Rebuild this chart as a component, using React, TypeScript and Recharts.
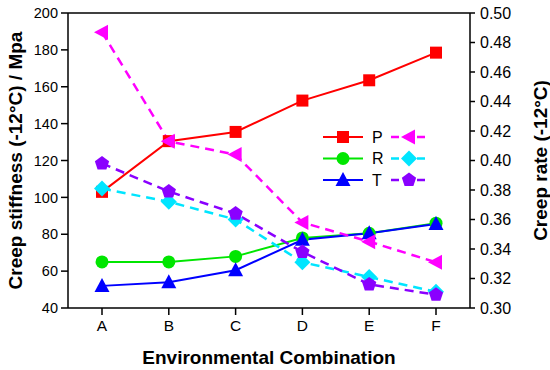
import React from 'react';
import { LineChart, Line, XAxis, YAxis, ReferenceLine, Label } from 'recharts';

const categories = ['A', 'B', 'C', 'D', 'E', 'F'];
const stiffnessP = [103, 130.5, 135.5, 152.5, 163.5, 178.5];
const stiffnessR = [65, 65, 68, 78, 80.5, 86];
const stiffnessT = [52, 54, 60.5, 77, 80.5, 85.5];
const rateP = [0.487, 0.413, 0.404, 0.358, 0.345, 0.331];
const rateR = [0.381, 0.372, 0.36, 0.331, 0.321, 0.311];
const rateT = [0.398, 0.379, 0.364, 0.338, 0.316, 0.309];

const leftTicks = [40, 60, 80, 100, 120, 140, 160, 180, 200];
const leftMinorTicks = [50, 70, 90, 110, 130, 150, 170, 190];
const rightTicks = [0.3, 0.32, 0.34, 0.36, 0.38, 0.4, 0.42, 0.44, 0.46, 0.48, 0.5];
const rightMinorTicks = [0.31, 0.33, 0.35, 0.37, 0.39, 0.41, 0.43, 0.45, 0.47, 0.49];

const data = categories.map((name, i) => ({
  name,
  sP: stiffnessP[i],
  sR: stiffnessR[i],
  sT: stiffnessT[i],
  rP: rateP[i],
  rR: rateR[i],
  rT: rateT[i],
}));

const FONT = '"Liberation Sans", Arial, sans-serif';

type Shape = 'square' | 'circle' | 'triangle' | 'leftTriangle' | 'diamond' | 'pentagon';

function Marker({ cx, cy, shape, color }: { cx: number; cy: number; shape: Shape; color: string }) {
  if (cx == null || cy == null) return null;
  switch (shape) {
    case 'square':
      return <rect x={cx - 6} y={cy - 6} width={12} height={12} fill={color} />;
    case 'circle':
      return <circle cx={cx} cy={cy} r={6.5} fill={color} />;
    case 'triangle':
      return <polygon points={`${cx},${cy - 8} ${cx - 7.5},${cy + 6} ${cx + 7.5},${cy + 6}`} fill={color} />;
    case 'leftTriangle':
      return <polygon points={`${cx - 8},${cy} ${cx + 6},${cy - 7.5} ${cx + 6},${cy + 7.5}`} fill={color} />;
    case 'diamond':
      return <polygon points={`${cx},${cy - 8} ${cx + 8},${cy} ${cx},${cy + 8} ${cx - 8},${cy}`} fill={color} />;
    case 'pentagon': {
      const pts = [0, 1, 2, 3, 4]
        .map((k) => {
          const a = ((-90 + 72 * k) * Math.PI) / 180;
          return `${cx + 7.5 * Math.cos(a)},${cy + 7.5 * Math.sin(a)}`;
        })
        .join(' ');
      return <polygon points={pts} fill={color} />;
    }
  }
  return null;
}

const series = [
  { key: 'sP', axis: 'left', color: '#ff0000', shape: 'square' as Shape, dashed: false },
  { key: 'sR', axis: 'left', color: '#00e600', shape: 'circle' as Shape, dashed: false },
  { key: 'sT', axis: 'left', color: '#0000ff', shape: 'triangle' as Shape, dashed: false },
  { key: 'rP', axis: 'right', color: '#ff00ff', shape: 'leftTriangle' as Shape, dashed: true },
  { key: 'rR', axis: 'right', color: '#00e5ff', shape: 'diamond' as Shape, dashed: true },
  { key: 'rT', axis: 'right', color: '#8a00ff', shape: 'pentagon' as Shape, dashed: true },
];

const makeDot = (shape: Shape, color: string) => (props: any) => (
  <Marker key={`dot-${props.index}`} cx={props.cx} cy={props.cy} shape={shape} color={color} />
);

const legendRows = [
  { label: 'P', left: series[0], right: series[3] },
  { label: 'R', left: series[1], right: series[4] },
  { label: 'T', left: series[2], right: series[5] },
];

// legend drawn as an overlay so it doesn't eat into the plot area
function ChartLegend() {
  return (
    <svg width={120} height={66} style={{ position: 'absolute', left: 318, top: 126 }}>
      {legendRows.map((row, i) => {
        const y = 11 + i * 21.5;
        return (
          <g key={row.label}>
            <line x1={5} x2={45} y1={y} y2={y} stroke={row.left.color} strokeWidth={2} />
            <Marker cx={25} cy={y} shape={row.left.shape} color={row.left.color} />
            <text x={54} y={y} dominantBaseline="central" fontFamily={FONT} fontSize={16} fill="#000">
              {row.label}
            </text>
            <line x1={73} x2={110} y1={y} y2={y} stroke={row.right.color} strokeWidth={2.5} strokeDasharray="8 5" />
            <Marker cx={91} cy={y} shape={row.right.shape} color={row.right.color} />
          </g>
        );
      })}
    </svg>
  );
}

const titleStyle = { fontFamily: FONT, fontSize: 19, fontWeight: 'bold' as const, fill: '#000' };

const leftTitle = (props: any) => {
  const vb = props.viewBox;
  const cx = vb.x + 15;
  const cy = vb.y + vb.height / 2;
  return (
    <text x={cx} y={cy} transform={`rotate(-90, ${cx}, ${cy})`} textAnchor="middle" dominantBaseline="central" {...titleStyle}>
      Creep stiffness (-12°C) / Mpa
    </text>
  );
};

const rightTitle = (props: any) => {
  const vb = props.viewBox;
  const cx = vb.x + 70;
  const cy = vb.y + vb.height / 2;
  return (
    <text x={cx} y={cy} transform={`rotate(-90, ${cx}, ${cy})`} textAnchor="middle" dominantBaseline="central" {...titleStyle}>
      Creep rate (-12°C)
    </text>
  );
};

const bottomTitle = (props: any) => {
  const vb = props.viewBox;
  return (
    <text x={vb.x + vb.width / 2} y={vb.y + 56} textAnchor="middle" {...titleStyle}>
      Environmental Combination
    </text>
  );
};

const axisLine = { stroke: '#000', strokeWidth: 1.5 };
const emptyTick = () => <g />;

export default function App() {
  return (
    <div style={{ position: 'absolute', left: 0, top: 0, width: 550, height: 370 }}>
      <LineChart width={550} height={370} data={data} margin={{ top: 13, right: 0, bottom: 0, left: 0 }}>
        <XAxis
          dataKey="name"
          padding={{ left: 34, right: 34 }}
          height={62}
          tickSize={7}
          tickMargin={5}
          axisLine={axisLine}
          tickLine={axisLine}
          tick={{ fill: '#000', fontSize: 15.5, fontFamily: FONT }}
        >
          <Label content={bottomTitle} />
        </XAxis>
        <YAxis
          yAxisId="leftMinor"
          domain={[40, 200]}
          ticks={leftMinorTicks}
          width={0}
          tickSize={4}
          axisLine={false}
          tickLine={axisLine}
          tick={emptyTick}
        />
        <YAxis
          yAxisId="left"
          domain={[40, 200]}
          ticks={leftTicks}
          width={68}
          tickSize={7}
          tickMargin={3}
          axisLine={axisLine}
          tickLine={axisLine}
          tick={{ fill: '#000', fontSize: 14.5, fontFamily: FONT }}
        >
          <Label content={leftTitle} />
        </YAxis>
        <YAxis
          yAxisId="rightMinor"
          orientation="right"
          domain={[0.3, 0.5]}
          ticks={rightMinorTicks}
          width={0}
          tickSize={4}
          axisLine={false}
          tickLine={axisLine}
          tick={emptyTick}
        />
        <YAxis
          yAxisId="right"
          orientation="right"
          domain={[0.3, 0.5]}
          ticks={rightTicks}
          width={80}
          tickSize={5}
          tickMargin={5}
          axisLine={axisLine}
          tickLine={axisLine}
          tickFormatter={(v: number) => v.toFixed(2)}
          tick={{ fill: '#000', fontSize: 16, fontFamily: FONT }}
        >
          <Label content={rightTitle} />
        </YAxis>
        <ReferenceLine yAxisId="left" y={200} stroke="#000" strokeWidth={1.5} />
        {series.map((s) => (
          <Line
            key={s.key}
            yAxisId={s.axis}
            dataKey={s.key}
            type="linear"
            stroke={s.color}
            strokeWidth={s.dashed ? 2.5 : 2}
            strokeDasharray={s.dashed ? '9 6' : undefined}
            dot={makeDot(s.shape, s.color)}
            activeDot={false}
            isAnimationActive={false}
          />
        ))}
      </LineChart>
      <ChartLegend />
    </div>
  );
}
